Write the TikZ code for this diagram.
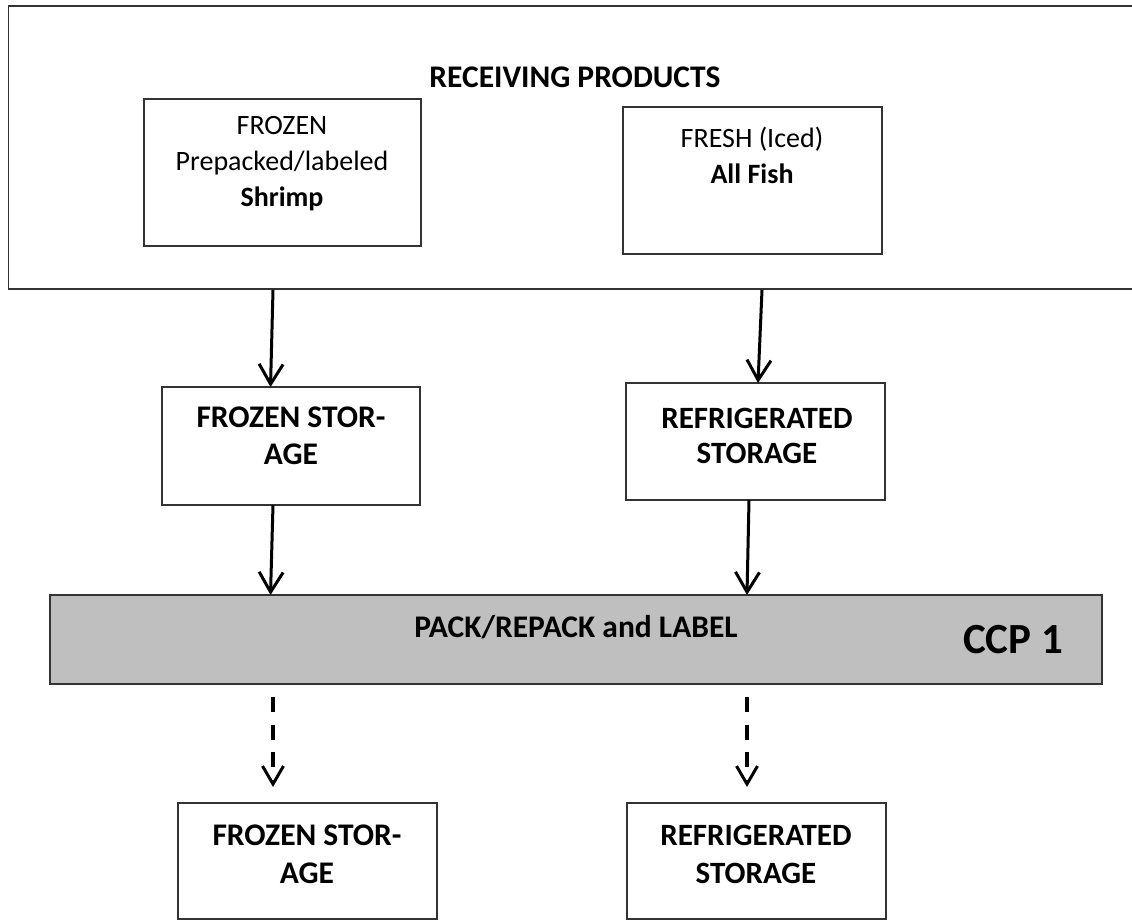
\documentclass[tikz,border=0pt]{standalone}
\usepackage{fontspec}
\setmainfont{Carlito}
\usetikzlibrary{arrows.meta}
\definecolor{bargray}{HTML}{BFBFBF}
\tikzset{
  boxnode/.style={draw=black!80, line width=1.6pt, rectangle, inner sep=0pt, outer sep=0pt, anchor=north west},
  txt/.style={align=center, inner sep=0pt, font=\fontsize{28}{36}\selectfont},
  btxt/.style={align=center, inner sep=0pt, font=\fontsize{31.5}{37}\selectfont\bfseries},
  arr/.style={line width=3pt, -{Straight Barb[length=20pt,width=24pt,line width=3pt]}},
  darr/.style={line width=3.2pt, dash pattern=on 15pt off 12.5pt, -{Straight Barb[length=18pt,width=21pt,line width=3pt]}}
}
\begin{document}
\begin{tikzpicture}[x=1pt,y=-1pt]
\useasboundingbox (0,0) rectangle (1132,921);
% boxes
\node[boxnode, minimum width=1130pt, minimum height=283pt] (recv) at (8.5,6) {};
\node[boxnode, minimum width=277pt, minimum height=147pt] (frz) at (144,99) {};
\node[boxnode, minimum width=259pt, minimum height=147pt] (fsh) at (623,107) {};
\node[boxnode, minimum width=258pt, minimum height=118pt] (fst1) at (162,387) {};
\node[boxnode, minimum width=259pt, minimum height=117pt] (rst1) at (626,383) {};
\node[boxnode, fill=bargray, minimum width=1052pt, minimum height=89pt] (bar) at (50,595) {};
\node[boxnode, minimum width=259pt, minimum height=116pt] (fst2) at (178,803) {};
\node[boxnode, minimum width=259pt, minimum height=116pt] (rst2) at (627,803) {};
% texts
\node[btxt] (recvt) at (575,77) {RECEIVING PRODUCTS};
\node[txt] (frzt) at (282,164) {FROZEN\\Prepacked/labeled\\\textbf{Shrimp}};
\node[txt] (fsht) at (752,155) {FRESH (Iced)\\\textbf{All Fish}};
\node[btxt] (fst1t) at (291,436) {FROZEN STOR-\\AGE};
\node[btxt, font=\fontsize{31}{35}\selectfont\bfseries] (rst1t) at (757,435.5) {REFRIGERATED\\STORAGE};
\node[btxt] (packt) at (576,627) {PACK/REPACK and LABEL};
\node[btxt, font=\fontsize{43}{48}\selectfont\bfseries] (ccpt) at (1013,640) {CCP 1};
\node[btxt, font=\fontsize{31.5}{38}\selectfont\bfseries] (fst2t) at (307,854) {FROZEN STOR-\\AGE};
\node[btxt, font=\fontsize{31}{38}\selectfont\bfseries] (rst2t) at (756,854) {REFRIGERATED\\STORAGE};
% arrows
\draw[arr] ([xshift=264.5pt,yshift=-1pt]recv.south west) -- ([xshift=108.5pt]fst1.north west);
\draw[arr] ([xshift=111pt]fst1.south west) -- ([xshift=220.5pt]bar.north west);
\draw[arr] ([xshift=753.5pt,yshift=-1pt]recv.south west) -- ([xshift=132pt]rst1.north west);
\draw[arr] ([xshift=123pt]rst1.south west) -- ([xshift=697pt]bar.north west);
\draw[darr] ([xshift=223pt,yshift=-13pt]bar.south west) -- ([xshift=95pt,yshift=16pt]fst2.north west);
\draw[darr] ([xshift=697pt,yshift=-13pt]bar.south west) -- ([xshift=120pt,yshift=16pt]rst2.north west);
\end{tikzpicture}
\end{document}
